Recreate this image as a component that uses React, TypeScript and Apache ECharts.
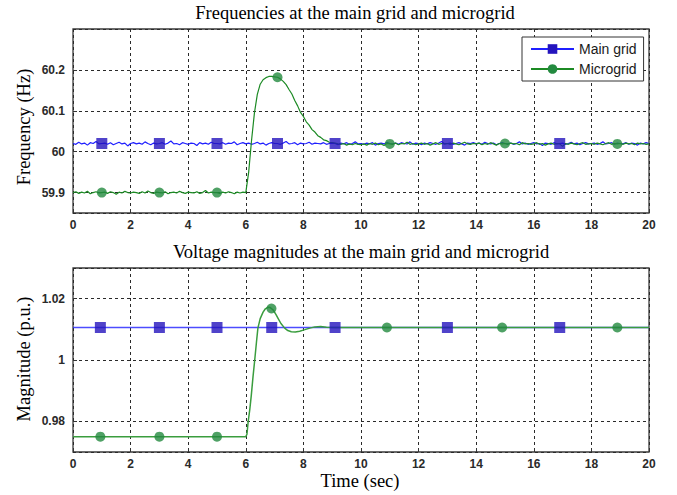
import React, { useEffect, useRef } from "react";
import * as echarts from "echarts";

// Sampling step of the frequency records (seconds)
const sampleStep = 0.1;

// Main grid frequency (Hz), one sample every 0.1 s from 0 to 20 s
const mainGridFreq = [
  60.020, 60.018, 60.023, 60.019, 60.021, 60.016, 60.022, 60.020, 60.025, 60.019,
  60.020, 60.021, 60.018, 60.022, 60.017, 60.020, 60.023, 60.019, 60.021, 60.014,
  60.020, 60.022, 60.019, 60.021, 60.018, 60.024, 60.020, 60.017, 60.021, 60.019,
  60.020, 60.022, 60.018, 60.021, 60.026, 60.019, 60.020, 60.017, 60.022, 60.020,
  60.018, 60.021, 60.020, 60.015, 60.022, 60.019, 60.021, 60.018, 60.023, 60.020,
  60.020, 60.019, 60.022, 60.018, 60.021, 60.020, 60.024, 60.017, 60.020, 60.022,
  60.019, 60.021, 60.018, 60.020, 60.023, 60.019, 60.021, 60.016, 60.020, 60.022,
  60.020, 60.020, 60.018, 60.021, 60.025, 60.019, 60.020, 60.022, 60.017, 60.021,
  60.019, 60.020, 60.023, 60.018, 60.021, 60.020, 60.019, 60.022, 60.018, 60.020,
  60.021, 60.020, 60.017, 60.021, 60.019, 60.022, 60.018, 60.020, 60.024, 60.019,
  60.020, 60.018, 60.021, 60.019, 60.022, 60.016, 60.020, 60.021, 60.019, 60.023,
  60.020, 60.019, 60.021, 60.018, 60.022, 60.020, 60.019, 60.024, 60.018, 60.021,
  60.020, 60.017, 60.021, 60.019, 60.022, 60.020, 60.018, 60.021, 60.025, 60.019,
  60.020, 60.021, 60.018, 60.020, 60.022, 60.019, 60.016, 60.021, 60.020, 60.022,
  60.019, 60.021, 60.018, 60.023, 60.020, 60.019, 60.021, 60.017, 60.020, 60.022,
  60.020, 60.019, 60.021, 60.018, 60.020, 60.024, 60.019, 60.021, 60.018, 60.020,
  60.022, 60.019, 60.020, 60.015, 60.021, 60.020, 60.018, 60.022, 60.019, 60.020,
  60.021, 60.018, 60.020, 60.023, 60.019, 60.021, 60.017, 60.020, 60.022, 60.019,
  60.020, 60.021, 60.018, 60.020, 60.024, 60.019, 60.020, 60.022, 60.018, 60.021,
  60.020, 60.019, 60.022, 60.018, 60.021, 60.020, 60.016, 60.021, 60.019, 60.022,
  60.020,
];

// Microgrid frequency (Hz), one sample every 0.1 s from 0 to 20 s
const microgridFreq = [
  59.900, 59.902, 59.898, 59.901, 59.899, 59.903, 59.897, 59.900, 59.902, 59.899,
  59.900, 59.901, 59.898, 59.902, 59.900, 59.896, 59.901, 59.899, 59.903, 59.900,
  59.899, 59.901, 59.900, 59.898, 59.902, 59.899, 59.904, 59.900, 59.898, 59.901,
  59.900, 59.899, 59.902, 59.897, 59.900, 59.901, 59.899, 59.903, 59.900, 59.898,
  59.901, 59.900, 59.899, 59.902, 59.898, 59.900, 59.905, 59.899, 59.901, 59.900,
  59.900, 59.898, 59.901, 59.899, 59.902, 59.900, 59.897, 59.901, 59.899, 59.901,
  59.900, 59.950, 60.028, 60.095, 60.140, 60.165, 60.176, 60.181, 60.184, 60.184,
  60.183, 60.182, 60.178, 60.172, 60.164, 60.152, 60.141, 60.125, 60.112, 60.096,
  60.086, 60.073, 60.065, 60.054, 60.048, 60.039, 60.035, 60.029, 60.027, 60.023,
  60.022, 60.021, 60.019, 60.018, 60.020, 60.016, 60.019, 60.017, 60.020, 60.018,
  60.017, 60.019, 60.016, 60.020, 60.018, 60.021, 60.017, 60.019, 60.015, 60.020,
  60.019, 60.018, 60.021, 60.017, 60.020, 60.019, 60.023, 60.018, 60.020, 60.017,
  60.019, 60.021, 60.018, 60.020, 60.016, 60.019, 60.022, 60.018, 60.020, 60.019,
  60.020, 60.018, 60.021, 60.019, 60.017, 60.020, 60.023, 60.019, 60.018, 60.020,
  60.019, 60.021, 60.017, 60.020, 60.018, 60.022, 60.019, 60.016, 60.020, 60.019,
  60.020, 60.018, 60.021, 60.019, 60.020, 60.017, 60.022, 60.019, 60.020, 60.018,
  60.019, 60.022, 60.018, 60.020, 60.016, 60.019, 60.021, 60.018, 60.020, 60.019,
  60.013, 60.020, 60.018, 60.021, 60.019, 60.017, 60.020, 60.022, 60.018, 60.019,
  60.020, 60.018, 60.021, 60.019, 60.017, 60.020, 60.022, 60.018, 60.020, 60.019,
  60.020, 60.018, 60.021, 60.019, 60.020, 60.017, 60.021, 60.019, 60.020, 60.018,
  60.019,
];

// Times at which the frequency markers sit
const mainGridFreqMarkerTimes = [1, 3, 5, 7.1, 9.1, 13, 16.9];
const microgridFreqMarkerTimes = [1, 3, 5, 7.1, 11, 15, 18.9];

// Voltage magnitudes (p.u.) as [time, value]
const mainGridVolt: [number, number][] = [
  [0, 1.0106],
  [20, 1.0106],
];
const mainGridVoltMarkers: [number, number][] = [
  [0.95, 1.0106], [3, 1.0106], [5, 1.0106], [6.9, 1.0106],
  [9.1, 1.0106], [13, 1.0106], [16.9, 1.0106],
];
const microgridVolt: [number, number][] = [
  [0, 0.975], [6.0, 0.975], [6.04, 0.9758], [6.08, 0.9797], [6.14, 0.984],
  [6.19, 0.9884], [6.25, 0.9945], [6.31, 1.0], [6.37, 1.0058], [6.42, 1.0104],
  [6.5, 1.0135], [6.6, 1.0156], [6.68, 1.0167], [6.77, 1.0172], [6.85, 1.0171],
  [6.95, 1.0163], [7.05, 1.0148], [7.12, 1.0136], [7.22, 1.0119], [7.35, 1.0104],
  [7.46, 1.0096], [7.58, 1.0092], [7.72, 1.0091], [7.87, 1.0094], [8.05, 1.0099],
  [8.22, 1.0104], [8.4, 1.0108], [8.6, 1.0109], [8.8, 1.0107], [9.1, 1.0106],
  [20, 1.0106],
];
const microgridVoltMarkers: [number, number][] = [
  [0.95, 0.975], [3, 0.975], [5, 0.975], [6.89, 1.0168],
  [10.9, 1.0106], [14.9, 1.0106], [18.9, 1.0106],
];

const seriesNames = ["Main grid", "Microgrid"];

const toPairs = (vals: number[]) =>
  vals.map((v, i) => [+(i * sampleStep).toFixed(1), v]);
const pickMarkers = (vals: number[], times: number[]) =>
  times.map((t) => [t, vals[Math.round(t / sampleStep)]]);

const BLUE_LINE = "#1f1fff";
const BLUE_MARK = "#2414bd";
const GREEN_LINE = "#1c8a24";
const GREEN_LINE_V = "#3a9d3e";
const GREEN_MARK = "#238a3f";

const SANS = '"Liberation Sans", Arial, sans-serif';
const SERIF = '"Liberation Serif", "Times New Roman", serif';

const gridLine = { lineStyle: { color: "#2a2a2a", width: 1, type: [3, 3] as number[] } };
const axisLabel = { fontFamily: SANS, fontSize: 12, fontWeight: "bold", color: "#2a2a2a" };
const tick = { show: true, inside: true, length: 4, lineStyle: { color: "#333" } };

export default function App() {
  const ref = useRef<HTMLDivElement>(null);

  useEffect(() => {
    if (!ref.current) return;
    const chart = echarts.init(ref.current, undefined, { renderer: "svg" });

    const xAxisBase = {
      type: "value",
      min: 0,
      max: 20,
      interval: 2,
      axisLine: { show: false },
      axisTick: tick,
      axisLabel: { ...axisLabel, margin: 6 },
      splitLine: { show: true, ...gridLine },
    };

    const titleText = (text: string, x: number, y: number, rot = 0) => ({
      type: "text",
      x,
      y,
      rotation: rot,
      silent: true,
      style: {
        text,
        font: `18.5px ${SERIF}`,
        fill: "#000",
        align: "center",
        verticalAlign: "middle",
        textAlign: "center",
        textVerticalAlign: "middle",
      },
    });

    chart.setOption({
      animation: false,
      backgroundColor: "#fff",
      grid: [
        { left: 73, top: 29, width: 576, height: 184, show: true, borderColor: "#3a3a3a", borderWidth: 1.3, backgroundColor: "transparent" },
        { left: 73, top: 268, width: 576, height: 184, show: true, borderColor: "#3a3a3a", borderWidth: 1.3, backgroundColor: "transparent" },
      ],
      xAxis: [
        { ...xAxisBase, gridIndex: 0 },
        { ...xAxisBase, gridIndex: 1 },
      ],
      yAxis: [
        {
          type: "value",
          gridIndex: 0,
          min: 59.85,
          max: 60.3,
          minInterval: 0.1,
          maxInterval: 0.1,
          axisLine: { show: false },
          axisTick: tick,
          axisLabel: { ...axisLabel, margin: 8, showMinLabel: false, showMaxLabel: false },
          splitLine: { show: true, ...gridLine },
        },
        {
          type: "value",
          gridIndex: 1,
          min: 0.97,
          max: 1.03,
          minInterval: 0.02,
          maxInterval: 0.02,
          axisLine: { show: false },
          axisTick: tick,
          axisLabel: { ...axisLabel, margin: 8, showMinLabel: false, showMaxLabel: false },
          splitLine: { show: true, ...gridLine },
        },
      ],
      legend: {
        data: seriesNames,
        orient: "vertical",
        left: 522,
        top: 37,
        padding: [5, 7, 5, 8],
        itemWidth: 43,
        itemHeight: 12,
        itemGap: 6,
        borderColor: "#333",
        borderWidth: 1,
        backgroundColor: "#fff",
        selectedMode: false,
        textStyle: { fontFamily: SANS, fontSize: 14, color: "#1a1a1a", padding: [0, 0, 0, 0] },
      },
      graphic: [
        titleText("Frequencies at the main grid and microgrid", 355, 13),
        titleText("Voltage magnitudes at the main grid and microgrid", 361, 252),
        titleText("Time (sec)", 360, 481),
        titleText("Frequency (Hz)", 24, 127, Math.PI / 2),
        titleText("Magnitude (p.u.)", 24, 359, Math.PI / 2),
      ],
      series: [
        {
          name: seriesNames[0],
          type: "line",
          xAxisIndex: 0,
          yAxisIndex: 0,
          data: toPairs(mainGridFreq),
          showSymbol: false,
          symbol: "rect",
          lineStyle: { color: BLUE_LINE, width: 1.2 },
          itemStyle: { color: BLUE_MARK },
          z: 2,
          silent: true,
        },
        {
          name: seriesNames[1],
          type: "line",
          xAxisIndex: 0,
          yAxisIndex: 0,
          data: toPairs(microgridFreq),
          showSymbol: false,
          symbol: "circle",
          lineStyle: { color: GREEN_LINE, width: 1.2 },
          itemStyle: { color: GREEN_MARK },
          z: 2,
          silent: true,
        },
        {
          name: seriesNames[0],
          type: "line",
          xAxisIndex: 1,
          yAxisIndex: 1,
          data: mainGridVolt,
          showSymbol: false,
          symbol: "rect",
          lineStyle: { color: BLUE_LINE, width: 1.4, opacity: 0.8 },
          itemStyle: { color: BLUE_MARK },
          z: 2,
          silent: true,
        },
        {
          name: seriesNames[1],
          type: "line",
          xAxisIndex: 1,
          yAxisIndex: 1,
          data: microgridVolt,
          showSymbol: false,
          symbol: "circle",
          lineStyle: { color: GREEN_LINE_V, width: 1.5 },
          itemStyle: { color: GREEN_MARK },
          z: 2,
          silent: true,
        },
        {
          name: seriesNames[0],
          type: "scatter",
          xAxisIndex: 0,
          yAxisIndex: 0,
          data: pickMarkers(mainGridFreq, mainGridFreqMarkerTimes),
          symbol: "rect",
          symbolSize: 11,
          itemStyle: { color: BLUE_MARK },
          z: 4,
          silent: true,
        },
        {
          name: seriesNames[1],
          type: "scatter",
          xAxisIndex: 0,
          yAxisIndex: 0,
          data: pickMarkers(microgridFreq, microgridFreqMarkerTimes),
          symbol: "circle",
          symbolSize: 10,
          itemStyle: { color: GREEN_MARK },
          z: 4,
          silent: true,
        },
        {
          name: seriesNames[0],
          type: "scatter",
          xAxisIndex: 1,
          yAxisIndex: 1,
          data: mainGridVoltMarkers,
          symbol: "rect",
          symbolSize: 11,
          itemStyle: { color: BLUE_MARK },
          z: 4,
          silent: true,
        },
        {
          name: seriesNames[1],
          type: "scatter",
          xAxisIndex: 1,
          yAxisIndex: 1,
          data: microgridVoltMarkers,
          symbol: "circle",
          symbolSize: 10,
          itemStyle: { color: GREEN_MARK },
          z: 4,
          silent: true,
        },
      ],
    });

    return () => chart.dispose();
  }, []);

  return (
    <div
      ref={ref}
      style={{ position: "absolute", left: 0, top: 0, width: 677, height: 495, background: "#fff" }}
    />
  );
}
